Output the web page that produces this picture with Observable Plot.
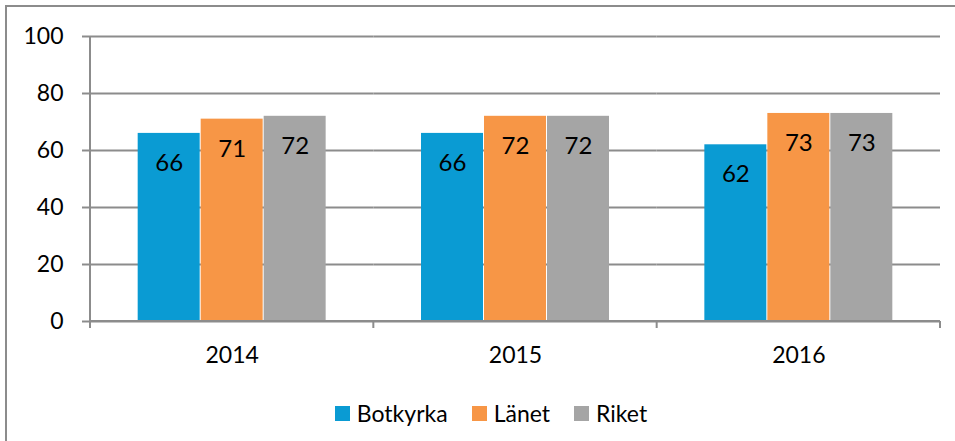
<!DOCTYPE html>
<html><head><meta charset="utf-8">
<script src="https://cdn.jsdelivr.net/npm/d3@7"></script>
<script src="https://cdn.jsdelivr.net/npm/@observablehq/plot@0.6"></script>
<style>
html,body{margin:0;padding:0;background:#fff;overflow:hidden;width:955px;height:441px;font-family:Lato,sans-serif;}
#frame{position:absolute;left:5px;top:5px;width:1000px;height:500px;border-left:2px solid #8c8c8c;border-top:2px solid #8c8c8c;}
#chart{position:absolute;left:0;top:0;}
#legend{position:absolute;left:0;top:399px;width:982px;display:flex;justify-content:center;align-items:center;font-size:23px;color:#000;}
#legend .item{display:flex;align-items:center;margin:0 12px;}
#legend .sw{width:15px;height:15px;margin-right:7px;}
</style></head><body>
<div id="frame"></div>
<div id="chart"></div>
<div id="legend"></div>
<script>
const years = ["2014", "2015", "2016"];
const series = ["Botkyrka", "Länet", "Riket"];
const botkyrka = [66, 66, 62];
const lanet = [71, 72, 73];
const riket = [72, 72, 73];
const colors = ["#0a9bd3", "#f79646", "#a5a5a5"];
const yTicks = [0, 20, 40, 60, 80, 100];

const values = [botkyrka, lanet, riket];
const data = [];
years.forEach((yr, i) => series.forEach((s, j) => data.push({year: yr, series: s, value: values[j][i]})));

const gray = "#8c8c8c";
const plot = Plot.plot({
  width: 955, height: 370,
  marginLeft: 90, marginRight: 15, marginTop: 36, marginBottom: 49,
  style: {fontFamily: "Lato, sans-serif", fontSize: "23px", color: "#000", background: "transparent", overflow: "visible"},
  fx: {domain: years, padding: 0, label: null, axis: null, round: false},
  x: {domain: series, paddingInner: 0, paddingOuter: 0.749, axis: null, round: false},
  y: {domain: [0, 100], label: null, axis: null},
  color: {domain: series, range: colors},
  marks: [
    Plot.gridY(yTicks, {stroke: gray, strokeOpacity: 1, strokeWidth: 2}),
    Plot.axisY(yTicks, {tickSize: 8, tickPadding: 19, stroke: gray, strokeWidth: 2, fontSize: 23, fill: "#000", label: null}),
    Plot.axisFx({anchor: "bottom", tickSize: 0, tickPadding: 25, fontSize: 23, fill: "#000", label: null}),
    Plot.barY(data, {fx: "year", x: "series", y: "value", fill: "series", insetLeft: 0.5, insetRight: 0.5}),
    Plot.text(data, {fx: "year", x: "series", y: "value", text: d => String(d.value), dy: 30, fontSize: 24, fill: "#000"})
  ]
});
document.getElementById("chart").appendChild(plot);

// axis line and category boundary ticks, positioned through Plot's scales
const fx = plot.scale("fx"), y = plot.scale("y");
const svg = d3.select(plot);
const bw = fx.bandwidth;
const bounds = years.map(yr => fx.apply(yr)).concat([fx.apply(years[years.length - 1]) + bw]);
const g = svg.append("g").attr("stroke", gray).attr("stroke-width", 2);
g.append("line").attr("x1", bounds[0]).attr("x2", bounds[0]).attr("y1", y.apply(100)).attr("y2", y.apply(0) + 7);
g.append("line").attr("x1", bounds[0]).attr("x2", bounds[bounds.length - 1]).attr("y1", y.apply(0)).attr("y2", y.apply(0));
bounds.slice(1).forEach(b => g.append("line").attr("x1", b).attr("x2", b).attr("y1", y.apply(0)).attr("y2", y.apply(0) + 7));

// legend
const leg = document.getElementById("legend");
series.forEach((s, i) => {
  const it = document.createElement("div"); it.className = "item";
  const sw = document.createElement("span"); sw.className = "sw"; sw.style.background = colors[i];
  const t = document.createElement("span"); t.textContent = s;
  it.appendChild(sw); it.appendChild(t); leg.appendChild(it);
});
</script>
</body></html>
